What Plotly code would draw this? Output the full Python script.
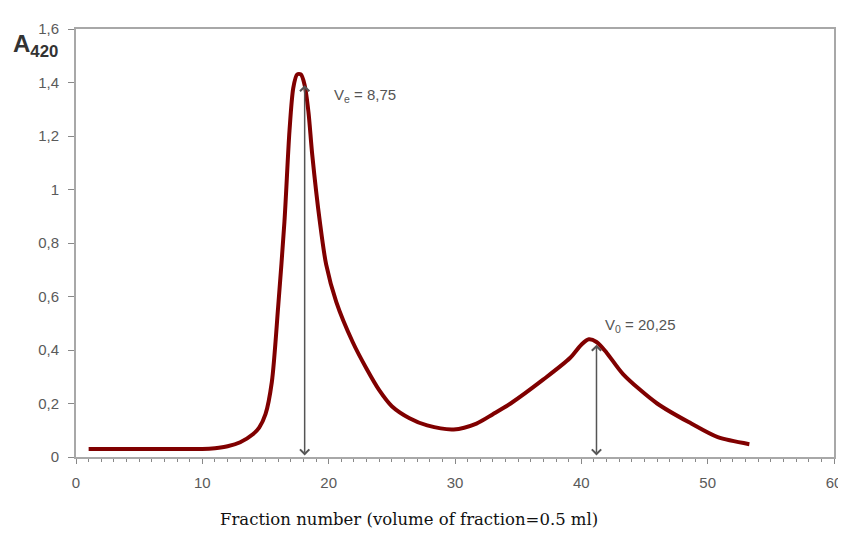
import plotly.graph_objects as go

# Elution profile
fraction = [1, 3, 5, 7, 9, 10, 11, 12, 13, 14, 14.5, 15, 15.5, 16, 16.5, 16.9, 17.2, 17.5,
            17.8, 18.1, 18.4, 18.7, 19.3, 19.8, 20.6, 21.9, 23, 24, 25, 26.4, 27.8, 29.9,
            31.7, 33, 34.4, 37, 39.1, 40.0, 40.6, 41.2, 42, 43.3, 46, 48.7, 50.8, 53.3]
absorbance = [0.03, 0.03, 0.03, 0.03, 0.03, 0.03, 0.033, 0.04, 0.055, 0.085, 0.11, 0.16, 0.28,
              0.56, 0.88, 1.22, 1.38, 1.43, 1.43, 1.39, 1.29, 1.13, 0.88, 0.72, 0.58, 0.43,
              0.33, 0.25, 0.19, 0.145, 0.118, 0.103, 0.125, 0.16, 0.20, 0.29, 0.37, 0.42,
              0.44, 0.43, 0.39, 0.31, 0.20, 0.125, 0.074, 0.048]

# Marker arrows (fraction position, top value) and labels
arrow_x = [18.1, 41.2]
arrow_top = [1.39, 0.42]
label_x = [20.3, 41.7]
label_y = [1.35, 0.49]
label_text = ["V<sub>e</sub> = 8,75", "V<sub>0</sub> = 20,25"]

x_ticks = [0, 10, 20, 30, 40, 50, 60]
y_ticks = [0, 0.2, 0.4, 0.6, 0.8, 1, 1.2, 1.4, 1.6]

fig = go.Figure()
fig.add_trace(go.Scatter(
    x=fraction, y=absorbance, mode="lines",
    line=dict(color="#800000", width=4, shape="spline", smoothing=0.8),
    showlegend=False, hoverinfo="skip",
))

annotations = []
for xa, yt in zip(arrow_x, arrow_top):
    annotations.append(dict(
        x=xa, y=yt, ax=xa, ay=0, xref="x", yref="y", axref="x", ayref="y",
        showarrow=True, arrowhead=4, arrowside="end+start", arrowsize=1.2,
        arrowwidth=1.5, arrowcolor="#555555", text="",
    ))
for lx, ly, lt in zip(label_x, label_y, label_text):
    annotations.append(dict(
        x=lx, y=ly, xref="x", yref="y", text=lt, showarrow=False,
        xanchor="left", yanchor="middle",
        font=dict(family="Liberation Sans, Arial", size=15, color="#555555"),
    ))
annotations.append(dict(
    x=-0.021, y=0.962, xref="paper", yref="paper", showarrow=False,
    xanchor="right", yanchor="middle",
    text="<b>A<sub>420</sub></b>",
    font=dict(family="Liberation Sans, Arial", size=24, color="#333333"),
))
annotations.append(dict(
    x=0.439, y=-0.145, xref="paper", yref="paper", showarrow=False,
    xanchor="center", yanchor="middle",
    text="Fraction number (volume of fraction=0.5 ml)",
    font=dict(family="DejaVu Serif", size=16.5, color="#111111"),
))

fig.update_layout(
    width=846, height=543,
    margin=dict(l=68, r=20, t=14, b=94),
    plot_bgcolor="white", paper_bgcolor="white",
    separators=", ",
    annotations=annotations,
    showlegend=False,
)
fig.update_xaxes(
    range=[0, 60], tickvals=x_ticks, ticks="outside", ticklen=5, tickwidth=1,
    tickcolor="#888888", showgrid=False, zeroline=False,
    showline=True, linecolor="#a8a8a8", linewidth=2, mirror=True,
    ticklabelstandoff=6,
    tickfont=dict(family="Liberation Sans, Arial", size=15, color="#5a5a5a"),
    minor=dict(dtick=1, ticks="outside", ticklen=3, tickcolor="#888888", showgrid=False),
)
fig.update_yaxes(
    range=[0, 1.6], tickvals=y_ticks, ticks="outside", ticklen=6, tickwidth=1,
    tickcolor="#888888", showgrid=False, zeroline=False,
    showline=True, linecolor="#a8a8a8", linewidth=2, mirror=True,
    ticklabelstandoff=6,
    tickfont=dict(family="Liberation Sans, Arial", size=15, color="#5a5a5a"),
)

fig.write_html("out.html")
